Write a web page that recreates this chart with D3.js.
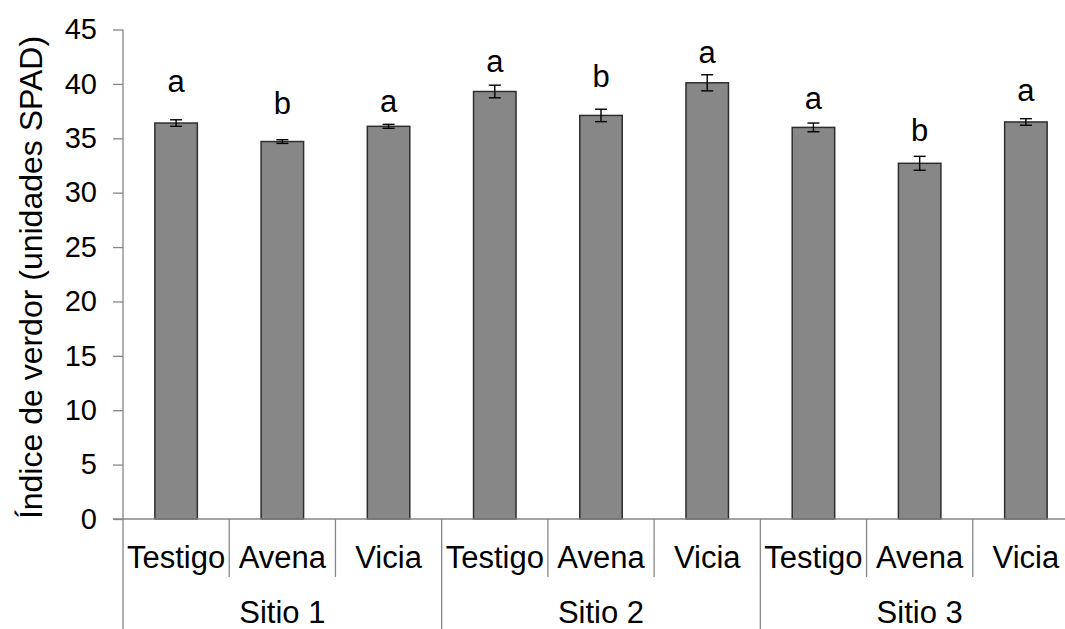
<!DOCTYPE html>
<html>
<head>
<meta charset="utf-8">
<script src="https://cdn.jsdelivr.net/npm/d3@7"></script>
<style>
  html, body { margin: 0; padding: 0; background: #fff; }
  svg { display: block; font-family: "Liberation Sans", Arial, sans-serif; }
</style>
</head>
<body>
<svg id="chart" width="1065" height="629"></svg>
<script>
// SPAD chlorophyll index by site and cover crop treatment
const sites = ["Sitio 1", "Sitio 2", "Sitio 3"];
const treatments = ["Testigo", "Avena", "Vicia"];
const means = [36.4, 34.7, 36.1, 39.3, 37.1, 40.1, 36.0, 32.7, 36.5];
const errors = [0.3, 0.17, 0.18, 0.58, 0.57, 0.74, 0.4, 0.64, 0.3];
const letters = ["a", "b", "a", "a", "b", "a", "a", "b", "a"];
const letterLevels = [39.3, 37.2, 37.45, 41.1, 39.7, 41.9, 37.7, 34.75, 38.4];
const yTicks = [0, 5, 10, 15, 20, 25, 30, 35, 40, 45];
const yTitle = "Índice de verdor (unidades SPAD)";

const rows = [];
sites.forEach((s, si) => treatments.forEach((t, ti) => {
  const i = si * treatments.length + ti;
  rows.push({ key: s + "|" + t, site: s, treatment: t, mean: means[i], err: errors[i], letter: letters[i], level: letterLevels[i] });
}));

const svg = d3.select("#chart");
const plotLeft = 123, plotRight = 1079, plotTop = 29.5, plotBottom = 519;
const axisGrey = "#868686";

const y = d3.scaleLinear().domain([0, 45]).range([plotBottom, plotTop]);
const x = d3.scaleBand().domain(rows.map(d => d.key)).range([plotLeft, plotRight])
  .paddingInner(0.6).paddingOuter(0.3);
const xCat = d3.scaleBand().domain(rows.map(d => d.key)).range([plotLeft, plotRight]).padding(0);
const xSite = d3.scaleBand().domain(sites).range([plotLeft, plotRight]).padding(0);

// Y axis
const yAxis = svg.append("g").attr("transform", `translate(${plotLeft},0)`)
  .call(d3.axisLeft(y).tickValues(yTicks).tickSize(10).tickPadding(16).tickFormat(d3.format("d")));
yAxis.select(".domain").remove();
yAxis.selectAll(".tick line").attr("stroke", axisGrey).attr("stroke-width", 1.3);
yAxis.selectAll(".tick text").attr("font-size", 29).attr("fill", "#000")
  .attr("font-family", "Liberation Sans, Arial, sans-serif");
svg.append("line").attr("x1", plotLeft).attr("x2", plotLeft).attr("y1", plotTop).attr("y2", 629)
  .attr("stroke", axisGrey).attr("stroke-width", 1.3);

// Bars
svg.append("g").selectAll("rect").data(rows).join("rect")
  .attr("x", d => x(d.key)).attr("width", x.bandwidth())
  .attr("y", d => y(d.mean)).attr("height", d => y(0) - y(d.mean))
  .attr("fill", "#878787").attr("stroke", "#2e2e2e").attr("stroke-width", 1.5);

// X axis baseline
svg.append("line").attr("x1", plotLeft - 10).attr("x2", plotRight).attr("y1", plotBottom).attr("y2", plotBottom)
  .attr("stroke", axisGrey).attr("stroke-width", 1.3);

// Error bars
const eb = svg.append("g").attr("stroke", "#000").attr("stroke-width", 1.4);
rows.forEach(d => {
  const cx = x(d.key) + x.bandwidth() / 2;
  eb.append("line").attr("x1", cx).attr("x2", cx).attr("y1", y(d.mean + d.err)).attr("y2", y(d.mean - d.err));
  eb.append("line").attr("x1", cx - 6).attr("x2", cx + 6).attr("y1", y(d.mean + d.err)).attr("y2", y(d.mean + d.err));
  eb.append("line").attr("x1", cx - 6).attr("x2", cx + 6).attr("y1", y(d.mean - d.err)).attr("y2", y(d.mean - d.err));
});

// Significance letters
svg.append("g").selectAll("text").data(rows).join("text")
  .attr("x", d => x(d.key) + x.bandwidth() / 2).attr("y", d => y(d.level))
  .attr("text-anchor", "middle").attr("font-size", 31).attr("fill", "#000")
  .text(d => d.letter);

// Category dividers and labels
const g = svg.append("g");
rows.forEach((d, i) => {
  const x0 = xCat(d.key);
  const isSiteEdge = i % treatments.length === 0;
  if (i > 0) {
    g.append("line").attr("x1", x0).attr("x2", x0).attr("y1", plotBottom)
      .attr("y2", isSiteEdge ? 629 : 577).attr("stroke", axisGrey).attr("stroke-width", 1.3);
  }
  g.append("text").attr("x", x0 + xCat.bandwidth() / 2).attr("y", 568)
    .attr("text-anchor", "middle").attr("font-size", 31).attr("fill", "#000").text(d.treatment);
});
sites.forEach(s => {
  g.append("text").attr("x", xSite(s) + xSite.bandwidth() / 2).attr("y", 623)
    .attr("text-anchor", "middle").attr("font-size", 31).attr("fill", "#000").text(s);
});

// Y title
svg.append("text").attr("transform", `translate(42,${(35 + 520) / 2}) rotate(-90)`)
  .attr("text-anchor", "middle").attr("font-size", 32).attr("fill", "#000").text(yTitle);
</script>
</body>
</html>
